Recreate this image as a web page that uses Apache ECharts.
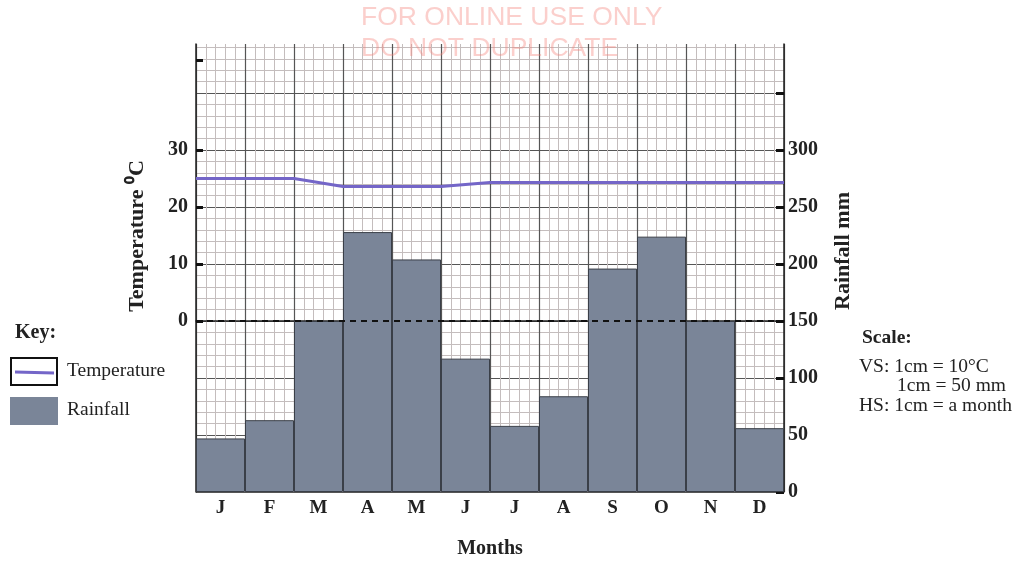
<!DOCTYPE html>
<html>
<head>
<meta charset="utf-8">
<script src="https://cdn.jsdelivr.net/npm/echarts@6/dist/echarts.min.js"></script>
<style>
html,body{margin:0;padding:0;background:#fff;}
#chart{width:1021px;height:561px;}
</style>
</head>
<body>
<div id="chart"></div>
<script>
// ---- data ----
const months = ['J','F','M','A','M','J','J','A','S','O','N','D'];
const rainfall = [47, 63, 150, 228, 204, 117, 58, 84, 196, 224, 150, 56];
// temperature read at month boundaries (0 = start of Jan ... 12 = end of Dec)
const tempBoundaries = [0,1,2,3,4,5,6,7,8,9,10,11,12];
const temperature = [25, 25, 25, 23.6, 23.6, 23.6, 24.3, 24.3, 24.3, 24.3, 24.3, 24.3, 24.3];
const tempTickLabels = [0, 10, 20, 30];
const rainTickLabels = [0, 50, 100, 150, 200, 250, 300];

const SERIF = '"Liberation Serif", "Times New Roman", serif';
const barColor = '#7a8598';
const lineColor = '#7466c8';

const chart = echarts.init(document.getElementById('chart'), null, {renderer: 'canvas'});

const option = {
  backgroundColor: '#ffffff',
  animation: false,
  grid: {left: 196, right: 237, top: 44, bottom: 69, containLabel: false},
  xAxis: [
    {
      type: 'category',
      data: months,
      boundaryGap: true,
      axisLine: {show: true, lineStyle: {color: '#222', width: 1.5}},
      axisTick: {show: false},
      axisLabel: {color: '#222', fontFamily: SERIF, fontWeight: 'bold', fontSize: 19, margin: 7},
      splitLine: {show: false}
    },
    {
      type: 'value',
      min: 0, max: 12, interval: 1,
      position: 'bottom',
      axisLine: {show: false},
      axisTick: {show: false},
      axisLabel: {show: false},
      splitLine: {show: true, lineStyle: {color: '#555', width: 1.2}},
      minorTick: {show: false, splitNumber: 5},
      minorSplitLine: {show: true, lineStyle: {color: '#c4bdbd', width: 1}}
    }
  ],
  yAxis: [
    {
      type: 'value',
      position: 'left',
      min: -30, max: 48.6, interval: 10,
      axisLine: {show: true, lineStyle: {color: '#222', width: 1.5}},
      axisTick: {show: true, inside: true, length: 7, lineStyle: {color: '#111', width: 3},
                 customValues: [0, 10, 20, 30, 45.7]},
      axisLabel: {color: '#222', fontFamily: SERIF, fontWeight: 'bold', fontSize: 20, margin: 8,
                  customValues: tempTickLabels},
      splitLine: {show: false}
    },
    {
      type: 'value',
      position: 'right',
      min: 0, max: 393, interval: 50,
      axisLine: {show: true, lineStyle: {color: '#222', width: 1.5}},
      axisTick: {show: true, inside: true, length: 8, lineStyle: {color: '#111', width: 3},
                 customValues: [0, 50, 100, 150, 200, 250, 300, 350]},
      axisLabel: {color: '#222', fontFamily: SERIF, fontWeight: 'bold', fontSize: 20, margin: 4,
                  customValues: rainTickLabels},
      splitLine: {show: true, lineStyle: {color: '#555', width: 1.2}},
      minorTick: {show: false, splitNumber: 5},
      minorSplitLine: {show: true, lineStyle: {color: '#c4bdbd', width: 1}}
    }
  ],
  series: [
    {
      name: 'Rainfall',
      type: 'bar',
      xAxisIndex: 0,
      yAxisIndex: 1,
      data: rainfall,
      barCategoryGap: '0%',
      itemStyle: {color: barColor, borderColor: '#3a3f48', borderWidth: 1},
      markLine: {
        silent: true,
        symbol: 'none',
        label: {show: false},
        lineStyle: {color: '#111', type: [6, 5], width: 2},
        data: [{yAxis: 150}]
      },
      z: 3
    },
    {
      name: 'Temperature',
      type: 'line',
      xAxisIndex: 1,
      yAxisIndex: 0,
      data: tempBoundaries.map((b, i) => [b, temperature[i]]),
      symbol: 'none',
      lineStyle: {color: lineColor, width: 3},
      z: 5
    }
  ],
  graphic: [
    // axis titles
    {type: 'text', x: 137, y: 236, rotation: Math.PI / 2,
     style: {text: 'Temperature \u2070C', fontFamily: SERIF, fontWeight: 'bold', fontSize: 22, fill: '#222',
             align: 'center', verticalAlign: 'middle'}},
    {type: 'text', x: 843, y: 251, rotation: Math.PI / 2,
     style: {text: 'Rainfall mm', fontFamily: SERIF, fontWeight: 'bold', fontSize: 22, fill: '#222',
             align: 'center', verticalAlign: 'middle'}},
    {type: 'text', x: 490, y: 549,
     style: {text: 'Months', fontFamily: SERIF, fontWeight: 'bold', fontSize: 20, fill: '#222',
             align: 'center', verticalAlign: 'middle'}},
    // key
    {type: 'text', x: 15, y: 333,
     style: {text: 'Key:', fontFamily: SERIF, fontWeight: 'bold', fontSize: 20, fill: '#222',
             align: 'left', verticalAlign: 'middle'}},
    {type: 'rect', shape: {x: 11, y: 358, width: 46, height: 27},
     style: {fill: '#fff', stroke: '#111', lineWidth: 2}},
    {type: 'line', shape: {x1: 15, y1: 372, x2: 54, y2: 373},
     style: {stroke: lineColor, lineWidth: 3}},
    {type: 'text', x: 67, y: 371,
     style: {text: 'Temperature', fontFamily: SERIF, fontSize: 19.5, fill: '#222',
             align: 'left', verticalAlign: 'middle'}},
    {type: 'rect', shape: {x: 10, y: 397, width: 48, height: 28},
     style: {fill: barColor}},
    {type: 'text', x: 67, y: 410,
     style: {text: 'Rainfall', fontFamily: SERIF, fontSize: 19.5, fill: '#222',
             align: 'left', verticalAlign: 'middle'}},
    // scale
    {type: 'text', x: 862, y: 338,
     style: {text: 'Scale:', fontFamily: SERIF, fontWeight: 'bold', fontSize: 19.5, fill: '#222',
             align: 'left', verticalAlign: 'middle'}},
    {type: 'text', x: 859, y: 367,
     style: {text: 'VS: 1cm = 10\u00B0C', fontFamily: SERIF, fontSize: 19.5, fill: '#222',
             align: 'left', verticalAlign: 'middle'}},
    {type: 'text', x: 897, y: 386,
     style: {text: '1cm = 50 mm', fontFamily: SERIF, fontSize: 19.5, fill: '#222',
             align: 'left', verticalAlign: 'middle'}},
    {type: 'text', x: 859, y: 406,
     style: {text: 'HS: 1cm = a month', fontFamily: SERIF, fontSize: 19.5, fill: '#222',
             align: 'left', verticalAlign: 'middle'}},
    // watermark
    {type: 'text', x: 361, y: 18, z: 100,
     style: {text: 'FOR ONLINE USE ONLY', fontFamily: '"Liberation Sans", Arial, sans-serif', fontSize: 26.5,
             fill: 'rgba(245,130,120,0.38)', align: 'left', verticalAlign: 'middle'}},
    {type: 'text', x: 361, y: 49, z: 100,
     style: {text: 'DO NOT DUPLICATE', fontFamily: '"Liberation Sans", Arial, sans-serif', fontSize: 26.5,
             fill: 'rgba(245,130,120,0.38)', align: 'left', verticalAlign: 'middle'}}
  ]
};

chart.setOption(option);
</script>
</body>
</html>
